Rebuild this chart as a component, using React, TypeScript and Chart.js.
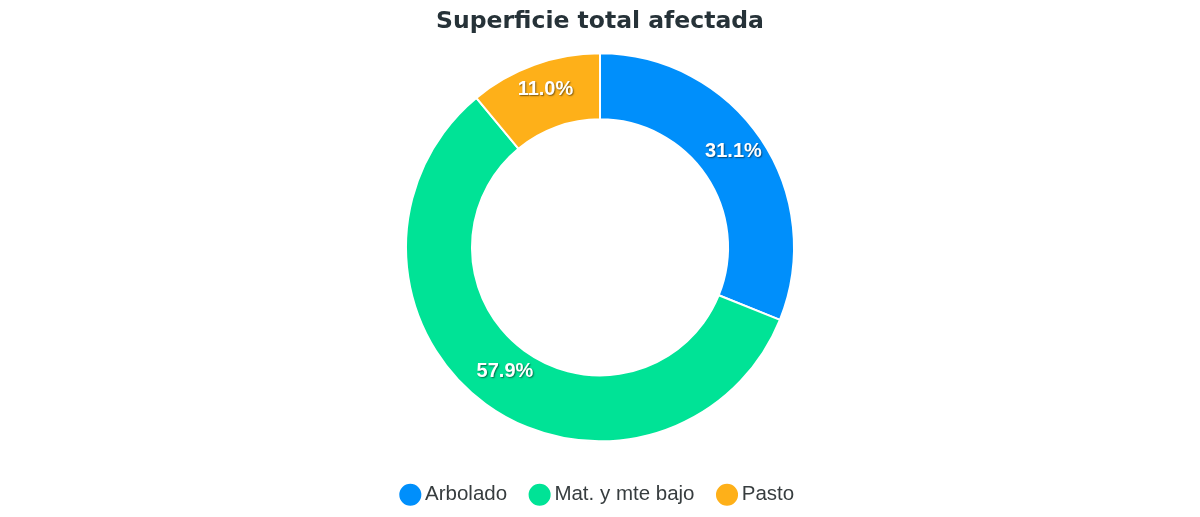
import React, { useEffect, useRef } from "react";
import { Chart, registerables } from "chart.js";

Chart.register(...registerables);

const titleText = "Superficie total afectada";
const categories = ["Arbolado", "Mat. y mte bajo", "Pasto"];
const values = [31.1, 57.9, 11.0];
const colors = ["#008FFB", "#00E396", "#FEB019"];

const sliceLabels = {
  id: "sliceLabels",
  afterDatasetsDraw(chart: any) {
    const ctx = chart.ctx;
    const meta = chart.getDatasetMeta(0);
    const data = chart.data.datasets[0].data as number[];
    const total = data.reduce((a, b) => a + b, 0);
    ctx.save();
    ctx.font = "bold 20px 'Liberation Sans', Arial, sans-serif";
    ctx.textAlign = "center";
    ctx.textBaseline = "middle";
    ctx.fillStyle = "#ffffff";
    ctx.shadowColor = "rgba(0,0,0,0.5)";
    ctx.shadowBlur = 1.5;
    ctx.shadowOffsetX = 1;
    ctx.shadowOffsetY = 1;
    meta.data.forEach((arc: any, i: number) => {
      const p = arc.getProps(["x", "y", "startAngle", "endAngle", "innerRadius", "outerRadius"], true);
      const mid = (p.startAngle + p.endAngle) / 2;
      const r = (p.innerRadius + p.outerRadius) / 2;
      const x = p.x + Math.cos(mid) * r;
      const y = p.y + Math.sin(mid) * r - 6;
      const txt = ((data[i] / total) * 100).toFixed(1) + "%";
      ctx.fillText(txt, x, y);
    });
    ctx.restore();
  },
};

export default function App() {
  const ref = useRef<HTMLCanvasElement | null>(null);
  useEffect(() => {
    if (!ref.current) return;
    const chart = new Chart(ref.current, {
      type: "doughnut",
      data: {
        labels: categories,
        datasets: [
          {
            data: values,
            backgroundColor: colors,
            borderColor: "#ffffff",
            borderWidth: 2,
            hoverOffset: 0,
          },
        ],
      },
      options: {
        animation: false,
        responsive: true,
        maintainAspectRatio: false,
        cutout: "66%",
        radius: 194,
        layout: { padding: { top: 0, bottom: 2, left: 0, right: 0 } },
        plugins: {
          title: {
            display: true,
            text: titleText,
            color: "#263238",
            font: { family: "'DejaVu Sans', sans-serif", size: 23.5, weight: "bold" },
            padding: { top: 8, bottom: 2 },
          },
          legend: {
            position: "bottom",
            labels: {
              usePointStyle: true,
              pointStyle: "circle",
              boxWidth: 9,
              boxHeight: 17,
              padding: 28,
              color: "#373d3f",
              font: { family: "'Liberation Sans', Arial, sans-serif", size: 20.5 },
            },
          },
          tooltip: { enabled: false },
        },
      },
      plugins: [sliceLabels],
    });
    return () => chart.destroy();
  }, []);
  return (
    <div style={{ position: "fixed", left: 0, top: 0, width: 1200, height: 517, background: "#fff" }}>
      <canvas ref={ref} />
    </div>
  );
}
